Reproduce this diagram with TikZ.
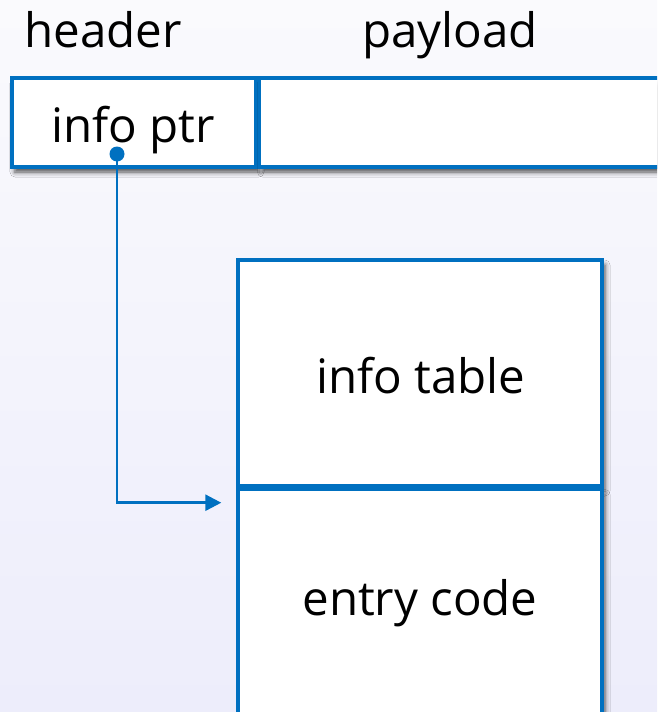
\documentclass[tikz,border=0pt]{standalone}
\usepackage{fontspec}
\setmainfont{Open Sans}
\usetikzlibrary{shadows.blur,arrows.meta,calc}
\definecolor{lineblue}{HTML}{0070C0}
\definecolor{bgtop}{HTML}{FAFAFD}
\definecolor{bgbot}{HTML}{EDEDFB}
\begin{document}
\begin{tikzpicture}[x=1pt,y=-1pt,
  cell/.style={draw=lineblue, line width=3.4pt, fill=white, inner sep=0pt,
    blur shadow={shadow xshift=3pt, shadow yshift=-5pt, shadow blur radius=5pt, shadow opacity=70}},
  label/.style={inner sep=0pt, anchor=base, font=\fontsize{47.5}{52}\selectfont},
  pointer/.style={draw=lineblue, line width=2.6pt, -{Triangle[length=16pt,width=16pt]}}]
  \useasboundingbox (0,0) rectangle (657,712);
  \clip (0,0) rectangle (657,712);
  % soft background
  \shade[top color=bgtop, bottom color=bgbot] (0,0) rectangle (657,712);
  % closure header and payload
  \node[cell, minimum width=244pt, minimum height=89pt] (hdr) at (134,122.5) {};
  \node[cell, minimum width=424pt, minimum height=89pt, anchor=west] (pay) at (hdr.east) {};
  \node[label] (hdrtext) at (133,142) {info ptr};
  \node[label] (hdrlabel) at (103,47) {header};
  \node[label] (paylabel) at (450,47) {payload};
  % info table and entry code
  \node[cell, minimum width=364pt, minimum height=226pt] (info) at (420,373) {};
  \node[cell, minimum width=364pt, minimum height=225pt, anchor=north] (entry) at (info.south) {};
  \node[label] (infotext) at (421,393) {info table};
  \node[label] (entrytext) at (420,615) {entry code};
  % pointer from header to the entry code
  \coordinate (dot) at (117,154);
  \coordinate (tip) at ($(info.south west)+(-15,15)$);
  \fill[lineblue] (dot) circle (7.5pt);
  \draw[pointer] (dot) |- (tip);
\end{tikzpicture}
\end{document}
